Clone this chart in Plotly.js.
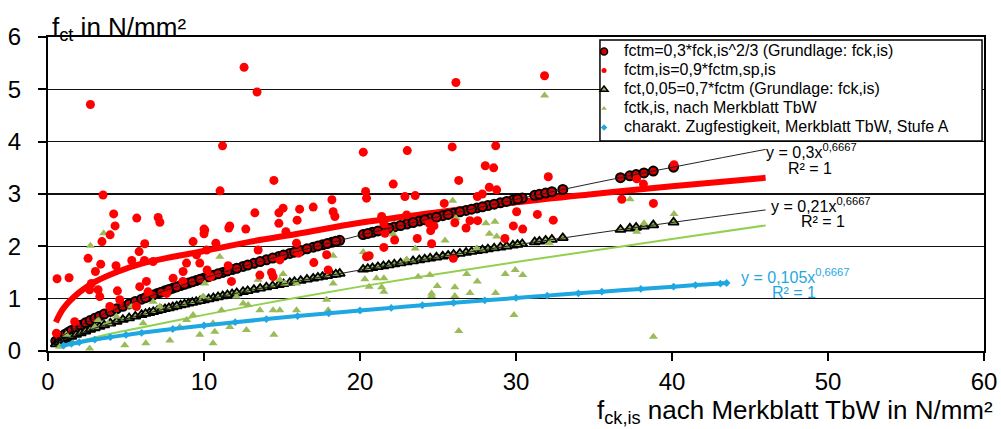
<!DOCTYPE html>
<html><head><meta charset="utf-8">
<script src="https://cdn.plot.ly/plotly-3.0.1.min.js"></script>
<style>html,body{margin:0;padding:0;background:#fff}</style>
</head><body><div id="chart" style="width:1001px;height:429px"></div>
<script>
// fck,is values (x) shared by the fctm and fct,0,05 series
const fckIs = [0.5,0.7,0.9,1.1,1.3,1.5,1.8,2.1,2.4,2.7,3.0,3.3,3.6,4.0,4.4,4.8,5.2,5.6,6.0,6.5,7.0,7.5,8.0,8.5,9.0,9.5,10.0,10.6,11.2,11.8,12.5,13.2,14.0,14.8,15.5,16.2,17.0,17.6,18.2,18.7,20.2,20.8,21.5,22.2,23.0,23.8,24.5,25.3,26.0,26.8,27.5,28.2,29.0,29.8,30.4,31.2,31.5,31.9,32.3,33.0,36.7,37.3,37.7,38.2,38.8,40.1,
 10.3,10.9,11.5,12.1,12.8,13.6,14.4,15.1,15.8,16.6,17.3,17.9,18.45,
 20.5,21.15,21.85,22.6,23.4,24.15,24.9,25.65,26.4,27.15,27.85,28.6,29.4,30.1,
 6.25,6.75,7.25,7.75,8.25,8.75,9.25,9.75];
const fctm = [0.189,0.236,0.280,0.320,0.357,0.393,0.444,0.492,0.538,0.582,0.624,0.665,0.705,0.756,0.806,0.854,0.900,0.946,0.991,1.045,1.098,1.150,1.200,1.250,1.298,1.346,1.393,1.448,1.502,1.555,1.616,1.676,1.743,1.808,1.864,1.920,1.983,2.030,2.076,2.114,2.225,2.269,2.320,2.371,2.426,2.483,2.531,2.586,2.633,2.687,2.734,2.780,2.832,2.884,2.922,2.974,2.993,3.018,3.043,3.087,3.312,3.348,3.372,3.402,3.438,3.513,
 1.420,1.475,1.529,1.581,1.642,1.709,1.776,1.833,1.889,1.952,2.007,2.053,2.095,
 2.247,2.294,2.345,2.398,2.454,2.507,2.558,2.609,2.660,2.710,2.756,2.806,2.858,2.903,
 1.018,1.072,1.124,1.175,1.225,1.274,1.322,1.369];
const fct005 = [0.132,0.165,0.196,0.224,0.250,0.275,0.311,0.344,0.377,0.407,0.437,0.465,0.493,0.529,0.564,0.598,0.630,0.662,0.693,0.731,0.768,0.805,0.840,0.875,0.909,0.942,0.975,1.013,1.051,1.088,1.131,1.173,1.220,1.266,1.305,1.344,1.388,1.421,1.453,1.480,1.558,1.588,1.624,1.659,1.698,1.738,1.772,1.810,1.843,1.881,1.913,1.946,1.982,2.019,2.046,2.082,2.095,2.113,2.130,2.161,2.318,2.344,2.360,2.381,2.406,2.459,
 0.994,1.032,1.070,1.107,1.149,1.197,1.243,1.283,1.322,1.367,1.405,1.437,1.466,
 1.573,1.606,1.641,1.679,1.718,1.755,1.791,1.826,1.862,1.897,1.929,1.964,2.000,2.032,
 0.713,0.750,0.787,0.822,0.857,0.892,0.925,0.958];

// fctm,is = 0,9*fctm,sp,is (measured, red dots)
const fctmIsX = [2.72,3.53,4.21,4.30,3.98,3.46,5.69,7.06,7.17,10.0,10.0,9.3,6.2,5.84,5.37,6.18,2.57,3.38,4.36,6.74,3.04,0.58,1.35,2.78,2.67,3.21,3.32,4.45,5.88,6.31,8.02,8.66,8.88,9.52,3.96,4.60,6.41,1.71,5.67,7.6,0.54,8.65,10.2,
 12.57,13.4,11.19,14.48,11.03,20.21,20.36,20.42,18.2,18.28,18.39,17.0,16.13,15.97,15.07,14.8,14.8,13.26,11.65,11.59,12.68,10.05,10.76,10.16,13.47,15.25,15.93,16.06,14.86,17.86,17.04,11.55,13.58,14.33,14.43,11.76,10.42,9.73,17.96,20.42,
 26.15,23.03,25.91,28.7,28.03,28.57,26.33,22.13,22.88,23.54,25.40,28.29,27.52,27.84,28.76,30.04,29.83,30.43,26.08,27.05,27.54,26.8,24.44,24.53,24.74,21.6,21.53,23.67,22.22,21.53,24.59,20.59,29.29,25.98,22.99,21.39,
 31.83,32.07,37.74,38.17,36.78,38.81,31.37,32.39,40.13];
const fctmIsY = [4.71,2.98,2.62,2.39,2.22,2.09,2.54,2.55,2.46,2.33,2.24,2.09,2.05,1.90,1.73,1.73,1.77,1.66,1.63,1.71,1.52,1.38,1.40,1.29,1.17,1.17,1.04,1.15,1.23,1.33,1.39,1.52,1.68,1.84,0.85,0.98,1.13,0.56,0.85,1.10,0.34,1.33,1.55,
 5.42,4.95,3.92,3.26,3.06,3.80,3.05,2.92,2.89,2.66,2.57,2.75,2.71,2.50,2.73,2.64,2.44,2.64,2.39,2.35,2.33,2.31,2.06,1.93,1.93,2.28,2.06,1.87,1.74,1.84,1.69,1.63,1.45,1.50,1.42,1.33,1.42,1.68,1.55,1.80,
 5.13,3.83,3.90,3.92,3.54,3.50,3.26,3.19,2.95,2.97,2.82,3.13,2.95,3.00,3.08,2.66,2.39,2.33,2.45,2.49,2.49,2.35,2.44,2.30,2.39,2.25,2.43,2.15,2.12,1.98,2.05,1.82,2.15,1.77,2.60,2.57,
 5.26,3.33,3.29,3.19,2.90,2.82,2.61,2.50,3.56];

// fctk,is nach Merkblatt TbW (green triangles)
const fctkX = [3.57,2.72,4.92,6.27,7.81,2.67,10.05,9.3,8.88,7.17,6.74,5.35,4.39,3.85,3.21,3.0,6.1,8.45,9.73,1.18,0.75,1.6,
 20.21,18.28,11.01,13.47,15.07,14.86,15.18,15.93,18.28,20.31,9.94,12.08,12.83,11.12,13.58,14.43,14.86,15.93,17.86,17.96,10.58,10.69,11.65,12.72,14.48,10.58,12.51,
 25.94,26.15,28.07,28.65,28.29,22.13,23.54,22.99,25.45,28.76,27.48,21.06,21.53,20.59,21.39,21.53,23.73,24.48,24.95,24.59,24.59,26.08,26.08,26.84,27.52,27.05,28.69,29.31,29.95,30.43,29.87,26.33,
 31.83,37.31,40.13,38.21,37.74,32.14,38.81];
const fctkY = [2.25,2.01,0.11,0.15,0.20,0.05,1.29,0.69,0.59,0.85,0.94,0.85,0.66,0.53,0.59,0.46,0.53,0.46,0.31,0.31,0.08,0.15,
 1.89,1.82,1.80,1.36,1.47,1.36,1.29,1.29,1.29,1.37,1.04,1.04,0.88,0.78,0.78,0.78,0.78,0.78,0.98,0.78,0.53,0.37,0.46,0.40,0.31,0.15,0.91,
 2.87,2.54,2.44,2.47,2.24,2.23,1.96,1.75,2.11,2.19,1.96,1.39,1.39,1.23,1.22,1.13,1.42,1.45,1.24,1.10,1.05,1.22,1.05,1.47,1.33,1.11,1.11,1.47,1.55,1.45,0.69,0.38,
 4.88,2.90,2.62,2.44,2.28,2.06,0.27];

// charakt. Zugfestigkeit, Merkblatt TbW, Stufe A (blue)
const blueX = [1,1.5,2,3,4,5,6,8,10,12,14,16,18,20,22,24,26,28,30,32,34,35.5,38,40.1,41.5,43.1,43.5];
const blueY = [0.105,0.138,0.167,0.218,0.265,0.307,0.347,0.420,0.487,0.550,0.610,0.667,0.721,0.774,0.824,0.874,0.922,0.968,1.014,1.058,1.102,1.134,1.187,1.230,1.259,1.289,1.299];

// red band and green line
const redLineX = [0.5,1,2,3,4.5,6,8,10,13,16,20,25,30,35,40,46];
const redLineY = [0.55,0.82,1.12,1.32,1.52,1.67,1.80,1.91,2.09,2.24,2.45,2.65,2.84,3.00,3.15,3.31];
const greenLineX = [1,2,4,6,10,15,20,25,30,35,40,46];
const greenLineY = [0.105,0.185,0.33,0.45,0.69,0.97,1.23,1.47,1.70,1.92,2.14,2.40];

// power trendlines
const trendX = [0.5,1,2,4,7,10,15,20,25,30,35,40,46];
const trendFctm = [0.189,0.300,0.476,0.756,1.098,1.393,1.825,2.210,2.565,2.896,3.210,3.509,3.852];
const trendFct005 = [0.132,0.210,0.333,0.529,0.768,0.975,1.277,1.547,1.796,2.028,2.247,2.456,2.696];

const legendNames = ['fctm=0,3*fck,is^2/3 (Grundlage: fck,is)','fctm,is=0,9*fctm,sp,is','fct,0,05=0,7*fctm (Grundlage: fck,is)','fctk,is, nach Merkblatt TbW','charakt. Zugfestigkeit, Merkblatt TbW, Stufe A'];
const L = s => '<span style="font-size:16px">' + s + '</span>';

const RED='#ff0000', GREEN='#9bbb59', LGREEN='#92d050', BLUE='#1fa7e1';
const nl = {showlegend:false, hoverinfo:'skip'};
const traces = [
 Object.assign({x:redLineX,y:redLineY,mode:'lines',line:{color:RED,width:6,shape:'spline'}},nl),
 Object.assign({x:fckIs,y:fctm,mode:'markers',marker:{symbol:'circle',size:9,color:'#d40000',line:{color:'#000',width:2}}},nl),
 Object.assign({x:greenLineX,y:greenLineY,mode:'lines',line:{color:LGREEN,width:2,shape:'spline'}},nl),
 Object.assign({x:fckIs,y:fct005,mode:'markers',marker:{symbol:'triangle-up',size:9,color:GREEN,line:{color:'#000',width:1.8}}},nl),
 Object.assign({x:fctkX,y:fctkY,mode:'markers',marker:{symbol:'triangle-up',size:8,color:GREEN}},nl),
 Object.assign({x:fctmIsX,y:fctmIsY,mode:'markers',marker:{symbol:'circle',size:9,color:RED}},nl),
 Object.assign({x:blueX,y:blueY,mode:'lines+markers',line:{color:BLUE,width:4,shape:'spline'},marker:{symbol:'diamond',size:6,color:BLUE}},nl),
 Object.assign({x:trendX,y:trendFctm,mode:'lines',line:{color:'#222',width:1,shape:'spline'}},nl),
 Object.assign({x:trendX,y:trendFct005,mode:'lines',line:{color:'#222',width:1,shape:'spline'}},nl),
 // legend entries
 {x:[null],y:[null],mode:'markers',name:L(legendNames[0]),marker:{symbol:'circle',size:7,color:'#d40000',line:{color:'#000',width:1.5}}},
 {x:[null],y:[null],mode:'markers',name:L(legendNames[1]),marker:{symbol:'circle',size:5,color:RED}},
 {x:[null],y:[null],mode:'markers',name:L(legendNames[2]),marker:{symbol:'triangle-up',size:7,color:GREEN,line:{color:'#000',width:1.5}}},
 {x:[null],y:[null],mode:'markers',name:L(legendNames[3]),marker:{symbol:'triangle-up',size:5,color:GREEN}},
 {x:[null],y:[null],mode:'markers',name:L(legendNames[4]),marker:{symbol:'diamond',size:5,color:BLUE}}
];

const FONT = 'Arial, "Liberation Sans", sans-serif';
const layout = {
 width:1001, height:429,
 margin:{l:48,r:17,t:37,b:78},
 paper_bgcolor:'#fff', plot_bgcolor:'#fff',
 font:{family:FONT,color:'#000'},
 showlegend:true,
 legend:{x:0.5727,xanchor:'left',y:1.0,yanchor:'top',bgcolor:'rgba(0,0,0,0)',borderwidth:0,font:{size:12,color:'#000'},tracegroupgap:0},
 shapes:[{type:'rect',xref:'paper',yref:'paper',x0:0.5897,x1:0.9979,y0:0.6688,y1:0.9904,line:{color:'#000',width:1.5},fillcolor:'#fff',layer:'above'}],
 xaxis:{range:[0,60],dtick:10,tick0:0,showgrid:false,zeroline:false,showline:true,linecolor:'#000',linewidth:2,mirror:true,ticks:'outside',ticklen:8,tickwidth:2,tickcolor:'#000',tickfont:{size:24},ticklabelstandoff:0},
 yaxis:{range:[0,6],dtick:1,tick0:0,showgrid:true,gridcolor:'#111',gridwidth:1.3,zeroline:false,showline:true,linecolor:'#000',linewidth:2,mirror:true,ticks:'outside',ticklen:8,tickwidth:2,tickcolor:'#000',tickfont:{size:24},ticklabelstandoff:12},
 annotations:[
  {xref:'paper',yref:'paper',x:0.002,y:0.968,xanchor:'left',yanchor:'bottom',text:'f<sub>ct</sub> in N/mm²',showarrow:false,font:{size:26}},
  {xref:'paper',yref:'paper',x:1.0118,y:-0.25,xanchor:'right',yanchor:'bottom',text:'f<sub>ck,is</sub> nach Merkblatt TbW in N/mm²',showarrow:false,font:{size:26}},
  {x:48.97,y:3.82,text:'y = 0,3x<sup>0,6667</sup>',showarrow:false,font:{size:16}},
  {x:48.85,y:3.48,text:'R² = 1',showarrow:false,font:{size:16}},
  {x:49.55,y:2.79,text:'y = 0,21x<sup>0,6667</sup>',showarrow:false,font:{size:16}},
  {x:49.7,y:2.47,text:'R² = 1',showarrow:false,font:{size:16}},
  {x:47.9,y:1.43,text:'y = 0,105x<sup>0,6667</sup>',showarrow:false,font:{size:16,color:BLUE}},
  {x:47.8,y:1.11,text:'R² = 1',showarrow:false,font:{size:16,color:BLUE}}
 ]
};
Plotly.newPlot('chart',traces,layout,{displayModeBar:false,staticPlot:true});
</script></body></html>
